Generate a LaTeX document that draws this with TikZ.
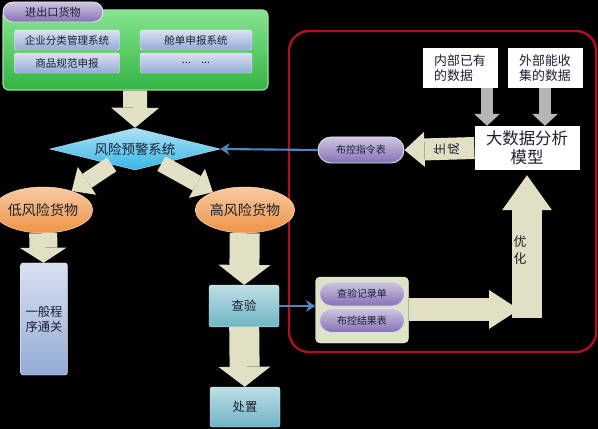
\documentclass[tikz,border=0pt]{standalone}
\usepackage{fontspec}
\setmainfont{Noto Sans CJK SC}
\usetikzlibrary{shapes.geometric,arrows.meta}
\definecolor{panelgreen}{HTML}{34B443}
\definecolor{panellight}{HTML}{86E491}
\definecolor{sysblue}{HTML}{93AAD6}
\definecolor{pillpurple}{HTML}{8570B4}
\definecolor{orangeell}{HTML}{EE9445}
\definecolor{tealbox}{HTML}{6FB5C4}
\definecolor{beige}{HTML}{E2E0C4}
\definecolor{diamondblue}{HTML}{35B5E6}
\definecolor{framered}{HTML}{B0101C}
\definecolor{greyarrow}{HTML}{B5B5B5}
\definecolor{linkblue}{HTML}{4F86C0}
\definecolor{groupfill}{HTML}{DDE4C6}
\definecolor{textdark}{HTML}{1C2030}
\begin{document}
\begin{tikzpicture}[x=0.03cm,y=-0.03cm,
  panelbox/.style={draw=white!55!panelgreen, line width=1pt, rounded corners=5pt, top color=panellight, bottom color=panelgreen, minimum width=7.95cm, minimum height=2.4cm},
  sysbox/.style={draw=white!75!sysblue, rounded corners=2pt, top color=sysblue!35!white, bottom color=sysblue, minimum width=3.15cm, minimum height=0.6cm, font=\fontsize{9}{10}\selectfont, text=textdark},
  pill/.style={draw=white!75!pillpurple, line width=0.8pt, rounded corners=0.36cm, top color=pillpurple!40!white, bottom color=pillpurple, minimum width=2.55cm, minimum height=0.72cm, font=\fontsize{8.5}{9}\selectfont, text=textdark},
  goods/.style={ellipse, draw=white!70!orangeell, top color=orangeell!50!white, bottom color=orangeell, minimum width=2.4cm, minimum height=1.38cm, inner sep=0pt, font=\fontsize{12}{13}\selectfont, text=textdark},
  stepbox/.style={draw=white!70!tealbox, rounded corners=2pt, top color=tealbox!45!white, bottom color=tealbox, minimum width=2.1cm, minimum height=1.25cm, font=\fontsize{10.5}{11}\selectfont, text=textdark},
  databox/.style={fill=white, minimum width=2.25cm, minimum height=1.2cm, align=left, inner sep=2pt, font=\fontsize{11}{13}\selectfont, text=textdark},
  bigarrow/.style n args={3}{line width=#1, -{Triangle[width=#2,length=#3,line width=0pt]}},
  linkarrow/.style={draw=linkblue, line width=1.8pt, -{Stealth[length=8pt,width=10pt]}}]
\useasboundingbox (0,0) rectangle (598,429);
\fill[black] (0,0) rectangle (598,429);
\draw[framered, line width=2pt, rounded corners=0.6cm] (289,31) rectangle (596,352);

\node (panel) at (135.5,50) [panelbox] {};
\node (goodsin) at (53,12) [pill, minimum width=3cm, minimum height=0.6cm, rounded corners=0.3cm, font=\fontsize{9.5}{10}\selectfont] {进出口货物};
\node (sysa) at (67,40) [sysbox] {企业分类管理系统};
\node (sysb) at (196,40) [sysbox, minimum width=3.36cm] {舱单申报系统};
\node (sysc) at (67,63) [sysbox] {商品规范申报};
\node (sysd) at (196,63) [sysbox, minimum width=3.36cm] {...\quad ...};

\node (risk) at (135,149) [diamond, aspect=4, minimum width=5.1cm, minimum height=1.26cm, inner sep=0pt, draw=white!60!diamondblue, top color=diamondblue!40!white, bottom color=diamondblue, font=\fontsize{11.5}{12}\selectfont, text=textdark] {风险预警系统};
\draw[draw=beige, bigarrow={0.72cm}{1.44cm}{0.6cm}] (panel) -- (risk.north);

\node (low) at (43,210) [goods] {低风险货物};
\node (high) at (245,210) [goods] {高风险货物};
\draw[draw=beige, bigarrow={0.5cm}{1.0cm}{0.55cm}] (risk) -- (low);
\draw[draw=beige, bigarrow={0.5cm}{1.0cm}{0.55cm}] (risk) -- (high);

\node (normal) at (44,319) [sysbox, minimum width=1.4cm, minimum height=3.36cm, align=center, font=\fontsize{10.5}{13}\selectfont] {一般程\\序通关};
\node (check) at (244,306) [stepbox] {查验};
\node (handle) at (245,407) [stepbox, minimum height=1.2cm] {处置};
\draw[draw=beige, bigarrow={0.84cm}{1.4cm}{0.45cm}] (low) -- (normal);
\draw[draw=beige, bigarrow={0.9cm}{1.56cm}{0.6cm}] (high) -- (check);
\draw[draw=beige, bigarrow={0.9cm}{1.56cm}{0.6cm}] (check) -- (handle);

\node (group) at (362,310) [draw=white!60!groupfill, rounded corners=4pt, fill=groupfill, minimum width=2.79cm, minimum height=1.98cm] {};
\node (recorda) at (362,294) [pill] {查验记录单};
\node (recordb) at (362,320.5) [pill] {布控结果表};
\draw[linkarrow] (check.east) -- (check.east -| group.west);

\node (model) at (527,148) [fill=white, minimum width=3.15cm, minimum height=1.32cm, align=center, inner sep=2pt, font=\fontsize{14}{16}\selectfont, text=textdark] {大数据分析\\模型};
\node (inner) at (460,68) [databox] {内部已有\\的数据};
\node (outer) at (545,68) [databox] {外部能收\\集的数据};
\coordinate (innerfoot) at (487,88);
\draw[draw=greyarrow, bigarrow={0.36cm}{0.78cm}{0.36cm}] (innerfoot) -- (innerfoot |- model.north);
\draw[draw=greyarrow, bigarrow={0.36cm}{0.78cm}{0.36cm}] (outer.south) -- (outer.south |- model.north);

\node (order) at (361,150) [pill, minimum width=2.58cm, minimum height=0.78cm, rounded corners=0.39cm] {布控指令表};
\draw[draw=beige, bigarrow={0.66cm}{1.05cm}{0.6cm}] (model.west) -- (order.east);
\node (make) at (447,149) [rotate=90, align=center, inner sep=0pt, font=\fontsize{10.5}{12.5}\selectfont, text=textdark] {生\\成};
\draw[linkarrow] (order.west) -- (risk.east);

\coordinate (base) at (527,318);
\coordinate (turn) at (519,309.5);
\draw[draw=beige, bigarrow={0.88cm}{1.5cm}{1.05cm}, shorten >=0.15cm] (base) -- (base |- model.south);
\draw[draw=beige, bigarrow={0.69cm}{1.17cm}{0.9cm}] (group.east |- turn) -- (turn);
\node (tune) at (520,250) [align=center, inner sep=0pt, font=\fontsize{11}{14}\selectfont, text=textdark] {优\\化};
\end{tikzpicture}
\end{document}
